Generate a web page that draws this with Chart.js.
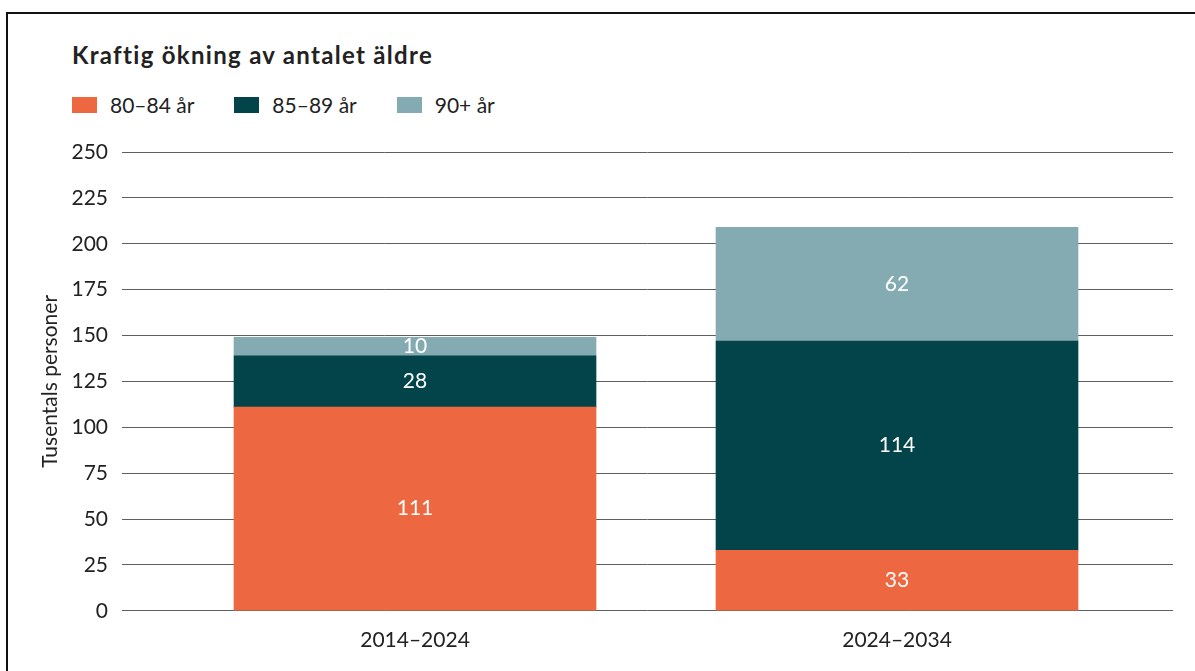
<!DOCTYPE html>
<html lang="sv">
<head>
<meta charset="utf-8">
<title>Kraftig ökning av antalet äldre</title>
<script src="https://cdn.jsdelivr.net/npm/chart.js@4.4.1/dist/chart.umd.min.js"></script>
<style>
  html, body { margin: 0; padding: 0; background: #fff; }
  body { width: 1195px; height: 671px; position: relative; overflow: hidden; font-family: Lato, "Noto Sans", sans-serif; color: #222; }
  #frame { position: absolute; left: 6px; top: 12px; right: -20px; bottom: -20px; border-left: 2px solid #111; border-top: 2px solid #111; }
  #title { position: absolute; left: 72px; top: 41px; font-size: 24px; font-weight: 700; letter-spacing: 1.3px; line-height: 1.2; margin: 0; }
  #legend { position: absolute; left: 72px; top: 92px; display: flex; gap: 40px; font-size: 21px; line-height: 1.2; }
  .item { display: flex; align-items: center; }
  .swatch { width: 25px; height: 16px; margin-right: 13px; }
  canvas { position: absolute; left: 0; top: 0; }
</style>
</head>
<body>
<div id="frame"></div>
<h1 id="title">Kraftig ökning av antalet äldre</h1>
<div id="legend"></div>
<canvas id="chart" width="1195" height="671"></canvas>
<script>
  // Data (tusentals personer)
  const periods = ['2014–2024', '2024–2034'];
  const age80to84 = [111, 33];
  const age85to89 = [28, 114];
  const age90plus = [10, 62];
  const seriesNames = ['80–84 år', '85–89 år', '90+ år'];
  const seriesColors = ['#ED6841', '#02444A', '#85ABB2'];
  const yTicks = [0, 25, 50, 75, 100, 125, 150, 175, 200, 225, 250];

  // HTML legend
  const legend = document.getElementById('legend');
  seriesNames.forEach((name, i) => {
    legend.insertAdjacentHTML('beforeend',
      `<div class="item"><span class="swatch" style="background:${seriesColors[i]}"></span><span>${name}</span></div>`);
  });

  const toPoints = (arr) => arr.map((v, i) => ({ x: i, y: v }));

  // white value labels inside each segment
  const valueLabels = {
    id: 'valueLabels',
    afterDatasetsDraw(chart) {
      const ctx = chart.ctx;
      ctx.save();
      ctx.fillStyle = '#fff';
      ctx.font = '21px Lato, "Noto Sans", sans-serif';
      ctx.textAlign = 'center';
      ctx.textBaseline = 'middle';
      chart.data.datasets.forEach((ds, di) => {
        chart.getDatasetMeta(di).data.forEach((bar, i) => {
          const c = bar.getCenterPoint();
          ctx.fillText(String(ds.data[i].y), c.x, c.y);
        });
      });
      ctx.restore();
    }
  };

  Chart.defaults.font.family = 'Lato, "Noto Sans", sans-serif';
  Chart.defaults.color = '#222';

  new Chart(document.getElementById('chart').getContext('2d'), {
    type: 'bar',
    data: {
      datasets: [
        { label: seriesNames[0], data: toPoints(age80to84), backgroundColor: seriesColors[0] },
        { label: seriesNames[1], data: toPoints(age85to89), backgroundColor: seriesColors[1] },
        { label: seriesNames[2], data: toPoints(age90plus), backgroundColor: seriesColors[2] }
      ]
    },
    options: {
      responsive: false,
      animation: false,
      devicePixelRatio: 1,
      barThickness: 362,
      layout: { padding: { top: 152, right: 22, bottom: 9, left: 0 } },
      plugins: { legend: { display: false }, tooltip: { enabled: false } },
      scales: {
        x: {
          type: 'linear',
          stacked: true,
          offset: false,
          min: -0.6079,
          max: 1.5726,
          grid: { display: false },
          border: { display: false },
          afterBuildTicks: (s) => { s.ticks = periods.map((_, i) => ({ value: i })); },
          ticks: { font: { size: 21 }, padding: 9, callback: (v) => periods[v] }
        },
        y: {
          stacked: true,
          min: 0,
          max: 250,
          afterBuildTicks: (s) => { s.ticks = yTicks.map(v => ({ value: v })); },
          afterFit: (s) => { s.width = 122; },
          grid: { color: '#5e5e5e', lineWidth: 1, drawTicks: false },
          border: { display: false },
          ticks: { font: { size: 21 }, padding: 14 },
          title: { display: true, text: 'Tusentals personer', font: { size: 21 }, padding: { top: 38, bottom: 0 } }
        }
      }
    },
    plugins: [valueLabels]
  });
</script>
</body>
</html>
